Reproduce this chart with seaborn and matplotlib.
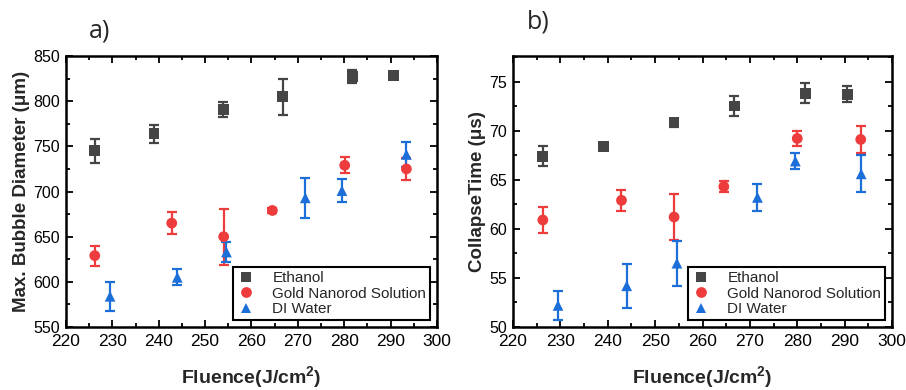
import numpy as np
import pandas as pd
import matplotlib
matplotlib.use("Agg")
import matplotlib.pyplot as plt
import seaborn as sns
from matplotlib.ticker import MultipleLocator

# ---- data ----
series = ["Ethanol", "Gold Nanorod Solution", "DI Water"]

eth_x = [226.2, 239.0, 253.9, 266.7, 281.7, 290.7]
eth_d = [745, 764, 791, 805, 827, 828]
eth_d_err = [13, 10, 8, 20, 7, 4]

gold_x = [226.2, 242.8, 254.0, 264.5, 280.1, 293.4]
gold_d = [629, 665, 650, 679, 729, 725]
gold_d_err = [11, 12, 31, 3, 9, 12]

di_x = [229.5, 244.0, 254.6, 271.6, 279.5, 293.4]
di_d = [584, 605, 633, 693, 701, 741]
di_d_err = [16, 9, 11, 22, 13, 14]

eth_x2 = [226.3, 239.1, 254.0, 266.7, 281.7, 290.6]
eth_t = [67.4, 68.4, 70.8, 72.5, 73.8, 73.7]
eth_t_err = [1.0, 0.2, 0.4, 1.0, 1.0, 0.8]

gold_x2 = [226.3, 242.9, 254.0, 264.5, 280.0, 293.4]
gold_t = [60.9, 62.9, 61.2, 64.3, 69.2, 69.1]
gold_t_err = [1.3, 1.1, 2.3, 0.55, 0.8, 1.35]

di_x2 = [229.5, 244.0, 254.6, 271.6, 279.6, 293.5]
di_t = [52.2, 54.2, 56.5, 63.2, 66.9, 65.6]
di_t_err = [1.5, 2.25, 2.3, 1.4, 0.8, 1.9]

colors = {"Ethanol": "#454545", "Gold Nanorod Solution": "#EE3B3B", "DI Water": "#1C6ED8"}
markers = {"Ethanol": "s", "Gold Nanorod Solution": "o", "DI Water": "^"}

def make_df(xs, ys, es):
    rows = []
    for name, x, y, e in zip(series, xs, ys, es):
        for xi, yi, ei in zip(x, y, e):
            rows.append({"Fluence": xi, "val": yi, "err": ei, "Sample": name})
    return pd.DataFrame(rows)

df_a = make_df([eth_x, gold_x, di_x], [eth_d, gold_d, di_d], [eth_d_err, gold_d_err, di_d_err])
df_b = make_df([eth_x2, gold_x2, di_x2], [eth_t, gold_t, di_t], [eth_t_err, gold_t_err, di_t_err])

sns.set_theme(style="ticks")
plt.rcParams['font.family'] = ['Liberation Sans', 'DejaVu Sans']
plt.rcParams['mathtext.fontset'] = 'custom'
plt.rcParams['mathtext.rm'] = 'Liberation Sans'
plt.rcParams['mathtext.bf'] = 'Liberation Sans:bold'

fig = plt.figure(figsize=(9.06, 3.90), dpi=100)
ax1 = fig.add_axes([66/906, 1-327/390, (437-66)/906, (327-56)/390])
ax2 = fig.add_axes([513/906, 1-327/390, (892-513)/906, (327-56)/390])

narrow = ['Liberation Sans Narrow', 'Liberation Sans', 'DejaVu Sans']

def draw(ax, df, ylim, ymajor, yminor, ylabel):
    for name in series:
        d = df[df.Sample == name]
        ax.errorbar(d.Fluence, d.val, yerr=d.err, fmt='none', ecolor=colors[name],
                    elinewidth=1.6, capsize=3.5, capthick=1.6, zorder=2)
    sns.scatterplot(data=df, x="Fluence", y="val", hue="Sample", style="Sample",
                    palette=colors, markers=markers, hue_order=series, style_order=series,
                    s=60, edgecolor='none', linewidth=0, ax=ax, zorder=3)
    ax.set_xlim(220, 300)
    ax.set_ylim(*ylim)
    ax.xaxis.set_major_locator(MultipleLocator(10))
    ax.xaxis.set_minor_locator(MultipleLocator(5))
    ax.yaxis.set_major_locator(MultipleLocator(ymajor))
    ax.yaxis.set_minor_locator(MultipleLocator(yminor))
    ax.tick_params(which='both', direction='in', top=True, right=True, width=1.3, colors='black')
    ax.tick_params(which='major', length=5)
    ax.tick_params(which='minor', length=3)
    ax.tick_params(axis='y', labelsize=11.5, pad=4.5)
    ax.tick_params(axis='x', labelsize=12.5, pad=5)
    for lab in ax.get_xticklabels():
        lab.set_family(narrow)
    for sp in ax.spines.values():
        sp.set_visible(True)
        sp.set_linewidth(1.8)
        sp.set_color('black')
    ax.set_ylabel(ylabel, fontsize=13.5, fontweight='bold', labelpad=2)
    ax.set_xlabel(r"Fluence(J/cm$^\mathbf{2}$)", fontsize=14, fontweight='bold',
                  family=narrow, labelpad=11)
    leg = ax.legend(loc='lower right', fontsize=11, frameon=True, fancybox=False,
                    edgecolor='black', framealpha=1, borderpad=0.25, labelspacing=0.1,
                    handlelength=1.2, handletextpad=1.1, borderaxespad=0.45,
                    markerscale=1.0)
    leg.get_frame().set_linewidth(1.5)
    leg.set_title(None)

draw(ax1, df_a, (550, 850), 50, 25, "Max. Bubble Diameter (\u03bcm)")
draw(ax2, df_b, (50, 77.6), 5, 2.5, "CollapseTime (\u03bcs)")

fig.text(100/906, 1-31/390, "a)", fontsize=18, ha='center', va='center', family=['Open Sans', 'DejaVu Sans'])
fig.text(538/906, 1-22/390, "b)", fontsize=18, ha='center', va='center', family=['Open Sans', 'DejaVu Sans'])

fig.savefig("out.png", dpi=100)
